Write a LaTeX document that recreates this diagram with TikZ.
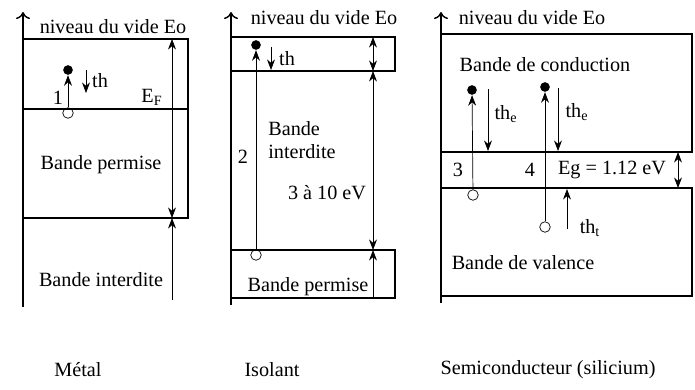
\documentclass[tikz,border=0pt]{standalone}
\usepackage{fontspec}
\setmainfont{Liberation Serif}
\usetikzlibrary{arrows.meta}
\begin{document}
\begin{tikzpicture}[x=0.02cm,y=-0.02cm,font=\fontsize{11.5}{13}\selectfont,
	>={Stealth[length=6pt,width=4.5pt]},
	axis/.style={thick,-{To[length=4pt,width=8pt]}},
	electron/.style={circle,fill,inner sep=0pt,minimum size=5.5pt},
	hole/.style={circle,draw,inner sep=0pt,minimum width=6pt,minimum height=5pt},
	band/.style={thick}]
	\useasboundingbox (0,0) rectangle (695,389);
	
	% Metal
	\coordinate(Mbot) at (23,307);
	\coordinate(Mtop) at (23,12);
	\draw[axis] (Mbot)--(Mtop);
	\draw[band] (23,39) -| (188,218) -- (23,218);
	\draw[band] (23,109) -- (188,109);
	\coordinate(Mgt) at (172,39);
	\coordinate(Mgb) at (172,218);
	\coordinate(Mlow) at (172,300);
	\draw[<->] (Mgt)--(Mgb);
	\draw[->] (Mlow)--(Mgb);
	\node[electron](Me) at (68,70){};
	\node[hole](Mh) at (68,113){};
	\draw[->] (Mh)--(Me);
	\coordinate(Mtha) at (86,70);
	\coordinate(Mthb) at (86,93);
	\draw[->] (Mtha)--(Mthb);
	\node(Mth) at (100,81){th};
	\node(Mone) at (58,98){1};
	\node(EF) at (152,97){E$_\mathrm{F}$};
	\node(Mvide) at (113,27){niveau du vide Eo};
	\node(Mperm) at (101,165){Bande permise};
	\node(Minter) at (101,280){Bande interdite};
	\node(Metal) at (78,370){Métal};
	
	% Isolant
	\coordinate(Ibot) at (231,305);
	\coordinate(Itop) at (231,12);
	\draw[axis] (Ibot)--(Itop);
	\draw[band] (231,37) rectangle (395,71);
	\draw[band] (231,250) rectangle (395,298);
	\coordinate(Iat) at (373,37);
	\coordinate(Iab) at (373,71);
	\coordinate(Igb) at (373,250);
	\coordinate(Ilow) at (373,298);
	\draw[<->] (Iat)--(Iab);
	\draw[<->] (Iab)--(Igb);
	\draw[->] (Ilow)--(Igb);
	\node[electron](Ie) at (256,45){};
	\node[hole](Ih) at (256,255){};
	\draw[->] (Ih)--(Ie);
	\coordinate(Itha) at (271,47);
	\coordinate(Ithb) at (271,70);
	\draw[->] (Itha)--(Ithb);
	\node(Ith) at (287,59){th};
	\node(Itwo) at (243,157){2};
	\node[align=left](Iinter) at (302,140){Bande\\interdite};
	\node(Igap) at (327,193){3 à 10 eV};
	\node(Iperm) at (308,287){Bande permise};
	\node(Ivide) at (324,18){niveau du vide Eo};
	\node(Isolant) at (272,370){Isolant};
	
	% Semiconducteur
	\coordinate(Sbot) at (441,303);
	\coordinate(Stop) at (441,12);
	\draw[axis] (Sbot)--(Stop);
	\draw[band] (441,34) rectangle (692,152);
	\draw[band] (441,188) rectangle (692,296);
	\coordinate(Sgt) at (678,152);
	\coordinate(Sgb) at (678,188);
	\draw[<->] (Sgt)--(Sgb);
	\node[electron](Se3) at (472,90){};
	\node[hole](Sh3) at (473,195){};
	\draw[->] (Sh3)--(Se3);
	\node[electron](Se4) at (545,87){};
	\node[hole](Sh4) at (545,227){};
	\draw[->] (Sh4)--(Se4);
	\coordinate(Sthea) at (488,89);
	\coordinate(Stheb) at (488,151);
	\draw[->] (Sthea)--(Stheb);
	\coordinate(Sthfa) at (558,88);
	\coordinate(Sthfb) at (558,151);
	\draw[->] (Sthfa)--(Sthfb);
	\coordinate(Stha) at (567,229);
	\coordinate(Sthb) at (567,189);
	\draw[->] (Stha)--(Sthb);
	\node(Sthe) at (506,114){th\textsubscript{e}};
	\node(Sthf) at (577,112){th\textsubscript{e}};
	\node(Stht) at (590,228){th\textsubscript{t}};
	\node(Sthree) at (458,170){3};
	\node(Sfour) at (530,170){4};
	\node(Eg) at (612,170){Eg = 1.12 eV};
	\node(Scond) at (545,65){Bande de conduction};
	\node(Sval) at (523,263){Bande de valence};
	\node(Svide) at (532,18){niveau du vide Eo};
	\node(Semi) at (548,370){Semiconducteur (silicium)};
\end{tikzpicture}
\end{document}
